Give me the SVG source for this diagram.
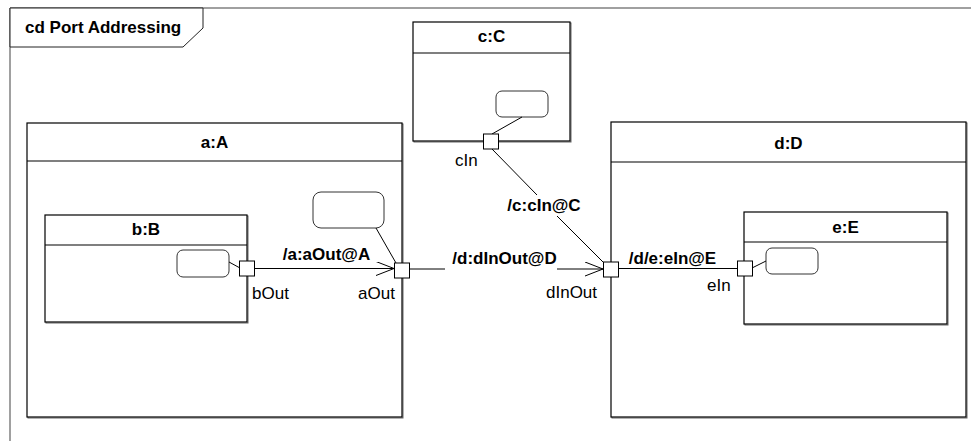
<svg xmlns="http://www.w3.org/2000/svg" width="971" height="441" viewBox="0 0 971 441">
<style>
.box{fill:#fff;stroke:#000;stroke-width:1.2}
.shadow{fill:none;stroke:#666;stroke-width:1}
.div{stroke:#000;stroke-width:1.2}
.port{fill:#fff;stroke:#000;stroke-width:1}
.st{fill:#fff;stroke:#333;stroke-width:1}
.ln{stroke:#000;stroke-width:1;fill:none}
.t{font-family:"Liberation Sans",Arial,sans-serif;font-size:17px;fill:#000}
.b{font-weight:bold;text-anchor:middle}
</style>
<defs>
<marker id="open" markerWidth="20" markerHeight="16" refX="18" refY="7" orient="auto" markerUnits="userSpaceOnUse">
<path d="M0,0 L18,7 L0,14" fill="none" stroke="#000" stroke-width="1"/>
</marker>
</defs>
<rect width="971" height="441" fill="#fff"/>
<g id="frame">
<line x1="10" y1="8" x2="971" y2="8" stroke="#808080" stroke-width="1.5"/>
<line x1="10" y1="8" x2="10" y2="441" stroke="#808080" stroke-width="1.5"/>
<path d="M10,8 H203 V28 L183,47 H10 Z" fill="#fff" stroke="#222" stroke-width="1"/>
<text class="t" x="25" y="33" font-weight="bold">cd Port Addressing</text>
</g>
<g id="node-a">
<rect class="shadow" x="28" y="124" width="375" height="294"/>
<rect class="box" x="27" y="123" width="375" height="294"/>
<line class="div" x1="27" y1="161" x2="402" y2="161"/>
<text class="t b" x="214.5" y="148">a:A</text>
<rect class="st" x="313" y="192" width="71" height="36" rx="8"/>
</g>
<g id="node-b">
<rect class="shadow" x="46" y="216" width="202" height="107"/>
<rect class="box" x="45" y="215" width="202" height="107"/>
<line class="div" x1="45" y1="245" x2="247" y2="245"/>
<text class="t b" x="146" y="235">b:B</text>
<rect class="st" x="177" y="250" width="52" height="27" rx="6"/>
</g>
<g id="node-c">
<rect class="shadow" x="414" y="23" width="157" height="119"/>
<rect class="box" x="413" y="22" width="157" height="119"/>
<line class="div" x1="413" y1="53" x2="570" y2="53"/>
<text class="t b" x="491.5" y="42">c:C</text>
<rect class="st" x="496" y="91" width="52" height="26" rx="6"/>
</g>
<g id="node-d">
<rect class="shadow" x="612" y="123" width="355" height="295"/>
<rect class="box" x="611" y="122" width="355" height="295"/>
<line class="div" x1="611" y1="162" x2="966" y2="162"/>
<text class="t b" x="788.5" y="149">d:D</text>
</g>
<g id="node-e">
<rect class="shadow" x="745" y="213" width="203" height="112"/>
<rect class="box" x="744" y="212" width="203" height="112"/>
<line class="div" x1="744" y1="242" x2="947" y2="242"/>
<text class="t b" x="845.5" y="233">e:E</text>
<rect class="st" x="766" y="248" width="52" height="26" rx="6"/>
</g>
<g id="connectors">
<line class="ln" x1="229" y1="262" x2="240" y2="268"/>
<line class="ln" x1="376" y1="228" x2="396" y2="263"/>
<line class="ln" x1="522" y1="117" x2="492" y2="134"/>
<line class="ln" x1="766" y1="261" x2="752" y2="268"/>
<line class="ln" x1="254" y1="268.5" x2="394" y2="268.5" marker-end="url(#open)"/>
<line class="ln" x1="409" y1="269" x2="445" y2="269"/>
<line class="ln" x1="557" y1="269" x2="603" y2="269" marker-end="url(#open)"/>
<line class="ln" x1="492" y1="149" x2="537" y2="195"/>
<line class="ln" x1="557" y1="216" x2="604" y2="263"/>
<line class="ln" x1="618" y1="268.5" x2="737" y2="268.5"/>
<text class="t b" x="326.5" y="260">/a:aOut@A</text>
<text class="t b" x="504.5" y="264">/d:dInOut@D</text>
<text class="t b" x="544" y="211">/c:cIn@C</text>
<text class="t b" x="672.5" y="264">/d/e:eIn@E</text>
</g>
<g id="ports">
<rect class="port" x="239.5" y="261" width="15" height="15"/>
<text class="t" x="252" y="299">bOut</text>
<rect class="port" x="394.5" y="263" width="15" height="15"/>
<text class="t" x="358" y="299">aOut</text>
<rect class="port" x="483.5" y="134" width="15" height="15"/>
<text class="t" x="455" y="166">cIn</text>
<rect class="port" x="603.5" y="262" width="15" height="15"/>
<text class="t" x="546" y="298">dInOut</text>
<rect class="port" x="737.5" y="261" width="15" height="15"/>
<text class="t" x="707" y="291">eIn</text>
</g>
</svg>
